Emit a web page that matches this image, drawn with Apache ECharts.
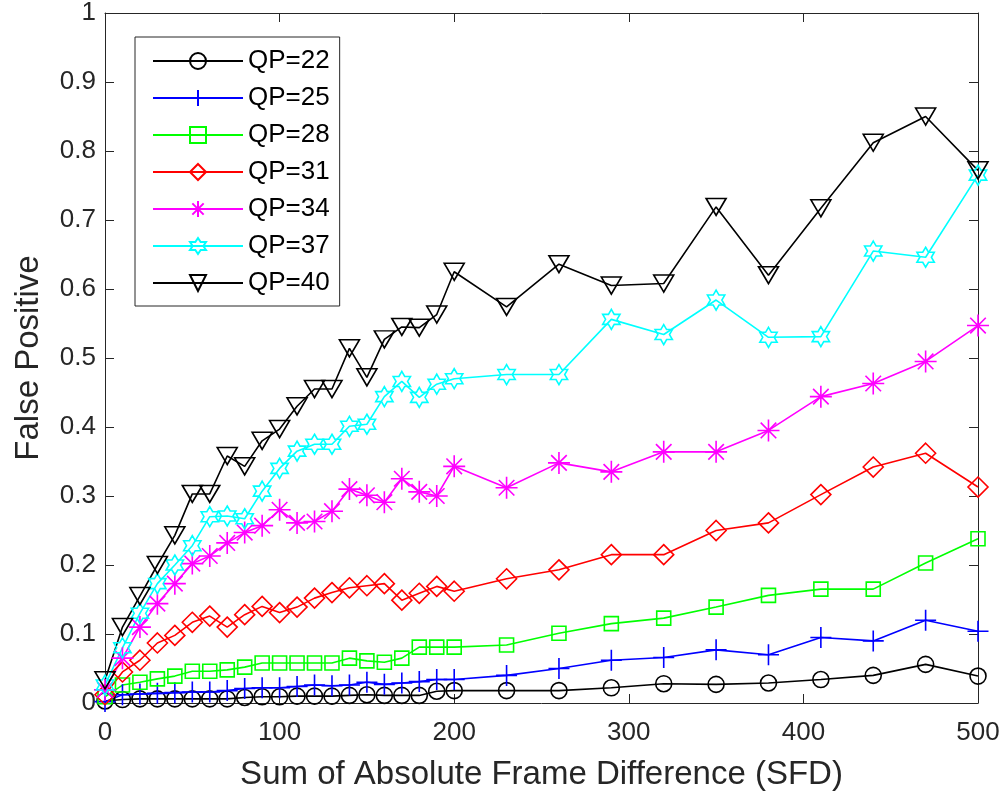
<!DOCTYPE html>
<html>
<head>
<meta charset="utf-8">
<script src="https://cdn.jsdelivr.net/npm/echarts@6/dist/echarts.min.js"></script>
<style>
html, body { margin: 0; padding: 0; background: #fff; }
#chart { width: 1003px; height: 801px; }
</style>
</head>
<body>
<div id="chart"></div>
<script>
const sfd = [0, 10, 20, 30, 40, 50, 60, 70, 80, 90, 100, 110, 120, 130, 140, 150, 160, 170, 180, 190, 200,
             230, 260, 290, 320, 350, 380, 410, 440, 470, 500];

const qp22 = [0.003, 0.005, 0.006, 0.006, 0.006, 0.006, 0.006, 0.006, 0.008, 0.009, 0.009, 0.010, 0.010, 0.010, 0.011, 0.012, 0.011, 0.011, 0.011, 0.017, 0.018,
              0.018, 0.018, 0.022, 0.028, 0.027, 0.029, 0.034, 0.040, 0.056, 0.039];
const qp25 = [0.002, 0.012, 0.013, 0.014, 0.015, 0.016, 0.016, 0.018, 0.021, 0.022, 0.022, 0.024, 0.026, 0.025, 0.026, 0.030, 0.027, 0.029, 0.031, 0.034, 0.034,
              0.040, 0.050, 0.062, 0.066, 0.077, 0.070, 0.095, 0.090, 0.120, 0.104];
const qp28 = [0.009, 0.026, 0.030, 0.035, 0.039, 0.046, 0.046, 0.048, 0.052, 0.058, 0.058, 0.058, 0.058, 0.058, 0.065, 0.061, 0.059, 0.065, 0.081, 0.081, 0.081,
              0.084, 0.101, 0.115, 0.123, 0.139, 0.156, 0.165, 0.165, 0.203, 0.238];
const qp31 = [0.012, 0.045, 0.062, 0.087, 0.098, 0.117, 0.126, 0.110, 0.128, 0.140, 0.131, 0.139, 0.152, 0.160, 0.167, 0.170, 0.173, 0.149, 0.159, 0.169, 0.162,
              0.180, 0.193, 0.215, 0.215, 0.250, 0.261, 0.302, 0.342, 0.362, 0.313];
const qp34 = [0.019, 0.065, 0.110, 0.144, 0.173, 0.202, 0.213, 0.232, 0.247, 0.257, 0.280, 0.261, 0.263, 0.278, 0.310, 0.301, 0.291, 0.325, 0.306, 0.300, 0.343,
              0.312, 0.348, 0.335, 0.364, 0.364, 0.395, 0.444, 0.463, 0.495, 0.547];
const qp37 = [0.026, 0.080, 0.130, 0.173, 0.200, 0.228, 0.270, 0.271, 0.267, 0.307, 0.340, 0.365, 0.375, 0.375, 0.401, 0.404, 0.444, 0.466, 0.443, 0.462, 0.470,
              0.476, 0.476, 0.556, 0.534, 0.584, 0.530, 0.531, 0.655, 0.646, 0.765];
const qp40 = [0.033, 0.110, 0.155, 0.200, 0.243, 0.303, 0.303, 0.358, 0.343, 0.380, 0.397, 0.430, 0.455, 0.455, 0.514, 0.472, 0.527, 0.545, 0.544, 0.563, 0.625,
              0.574, 0.636, 0.605, 0.608, 0.719, 0.620, 0.717, 0.812, 0.850, 0.772];

const seriesNames = ['QP=22', 'QP=25', 'QP=28', 'QP=31', 'QP=34', 'QP=37', 'QP=40'];
const xTickLabels = ['0', '100', '200', '300', '400', '500'];
const yTickLabels = ['0', '0.1', '0.2', '0.3', '0.4', '0.5', '0.6', '0.7', '0.8', '0.9', '1'];

const hexagram = 'path://M0,-10L2.89,-5L8.66,-5L5.77,0L8.66,5L2.89,5L0,10L-2.89,5L-8.66,5L-5.77,0L-8.66,-5L-2.89,-5Z';
const plus = 'path://M0,-10L0,10M-10,0L10,0';
const star = 'path://M0,-10L0,10M-10,0L10,0M-7.07,-7.07L7.07,7.07M-7.07,7.07L7.07,-7.07';

const styles = [
    { color: '#000000', symbol: 'circle', size: 16, rotate: 0 },
    { color: '#0000ff', symbol: plus, size: 21, rotate: 0 },
    { color: '#00ff00', symbol: 'rect', size: 14, rotate: 0 },
    { color: '#ff0000', symbol: 'diamond', size: 20, rotate: 0 },
    { color: '#ff00ff', symbol: star, size: 22, rotate: 0 },
    { color: '#00ffff', symbol: hexagram, size: 20, rotate: 0 },
    { color: '#000000', symbol: 'triangle', size: [20, 17], rotate: 180 }
];
const values = [qp22, qp25, qp28, qp31, qp34, qp37, qp40];

let chartDom = document.getElementById('chart');
let myChart = echarts.init(chartDom, null, { renderer: 'canvas' });

const axisColor = '#262626';
const fontFamily = '"Liberation Sans", Arial, Helvetica, sans-serif';

let series = seriesNames.map(function (name, i) {
    let s = styles[i];
    return {
        name: name,
        type: 'line',
        xAxisIndex: 0,
        yAxisIndex: 0,
        data: sfd.map(function (x, j) { return [x, values[i][j]]; }),
        symbol: s.symbol,
        symbolSize: s.size,
        symbolRotate: s.rotate,
        symbolKeepAspect: true,
        showAllSymbol: true,
        color: s.color,
        lineStyle: { color: s.color, width: 1.6 },
        itemStyle: { color: 'rgba(0,0,0,0)', borderColor: s.color, borderWidth: 1.6 },
        emphasis: { disabled: true }
    };
});

function axisBase(pos, min, max, interval) {
    return {
        type: 'value',
        position: pos,
        min: min,
        max: max,
        interval: interval,
        axisLine: { show: true, onZero: false, lineStyle: { color: axisColor, width: 1 } },
        axisTick: { show: true, inside: true, length: 9, lineStyle: { color: axisColor, width: 1 } },
        splitLine: { show: false }
    };
}

let xMain = axisBase('bottom', 0, 500, 100);
xMain.axisLabel = {
    color: axisColor, fontSize: 26, fontFamily: fontFamily, margin: 17,
    formatter: function (v) { return xTickLabels[Math.round(v / 100)]; }
};
xMain.name = 'Sum of Absolute Frame Difference (SFD)';
xMain.nameLocation = 'middle';
xMain.nameGap = 55;
xMain.nameTextStyle = { color: axisColor, fontSize: 33, fontFamily: fontFamily };

let xTop = axisBase('top', 0, 500, 100);
xTop.axisLabel = { show: false };

let yMain = axisBase('left', 0, 1, 0.1);
yMain.axisLabel = {
    color: axisColor, fontSize: 26, fontFamily: fontFamily, margin: 9,
    formatter: function (v) { return yTickLabels[Math.round(v * 10)]; }
};
yMain.name = 'False Positive';
yMain.nameLocation = 'middle';
yMain.nameRotate = 90;
yMain.nameGap = 60;
yMain.nameTextStyle = { color: axisColor, fontSize: 33, fontFamily: fontFamily };

let yRight = axisBase('right', 0, 1, 0.1);
yRight.axisLabel = { show: false };

let option = {
    animation: false,
    backgroundColor: '#ffffff',
    grid: { left: 105, right: 25, top: 10, bottom: 98, containLabel: false },
    legend: {
        orient: 'vertical',
        left: 135,
        top: 37,
        data: seriesNames,
        itemWidth: 90,
        itemHeight: 20,
        itemGap: 11,
        padding: [11, 10, 10, 17],
        borderColor: axisColor,
        borderWidth: 1,
        backgroundColor: '#ffffff',
        textStyle: { color: '#000000', fontSize: 26, fontFamily: fontFamily, lineHeight: 26 },
        selectedMode: false
    },
    xAxis: [xMain, xTop],
    yAxis: [yMain, yRight],
    series: series
};

option && myChart.setOption(option);
</script>
</body>
</html>
